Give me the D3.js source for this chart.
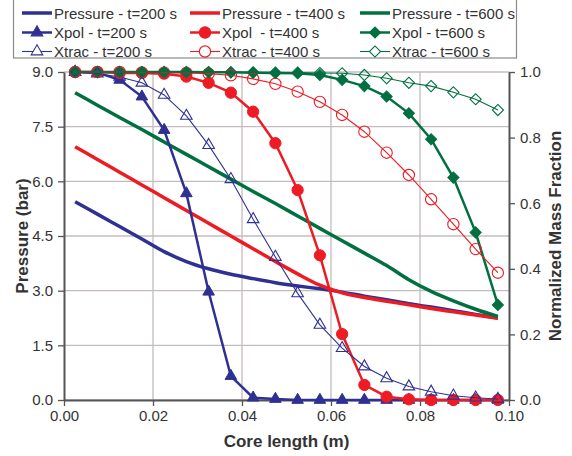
<!DOCTYPE html>
<html>
<head>
<meta charset="utf-8">
<script src="https://cdn.jsdelivr.net/npm/d3@7"></script>
<style>
body { margin: 0; background: #fff; }
text { font-family: "Liberation Sans", Arial, sans-serif; fill: #333; }
</style>
</head>
<body>
<div class="visualization"></div>
<script>
//data
const coreX = [0.0025, 0.0075, 0.0125, 0.0175, 0.0225, 0.0275, 0.0325, 0.0375, 0.0425, 0.0475,
               0.0525, 0.0575, 0.0625, 0.0675, 0.0725, 0.0775, 0.0825, 0.0875, 0.0925, 0.0975];

const pressure200 = [5.44, 5.10, 4.76, 4.42, 4.07, 3.80, 3.60, 3.45, 3.33, 3.22,
                     3.13, 3.05, 2.96, 2.85, 2.75, 2.64, 2.55, 2.45, 2.35, 2.25];
const pressure400 = [6.95, 6.60, 6.25, 5.90, 5.55, 5.20, 4.85, 4.50, 4.15, 3.80,
                     3.46, 3.15, 2.94, 2.81, 2.71, 2.61, 2.51, 2.42, 2.33, 2.24];
const pressure600 = [8.43, 8.09, 7.75, 7.42, 7.08, 6.74, 6.40, 6.06, 5.72, 5.39,
                     5.05, 4.71, 4.37, 4.03, 3.69, 3.30, 2.98, 2.72, 2.49, 2.29];

const xpol200 = [1.0, 0.998, 0.976, 0.925, 0.823, 0.63, 0.33, 0.073, 0.007, 0.003,
                 0, 0, 0, 0, 0, 0, 0, 0, 0, 0];
const xpol400 = [1.0, 1.0, 0.997, 0.997, 0.995, 0.986, 0.967, 0.937, 0.879, 0.783,
                 0.640, 0.441, 0.201, 0.046, 0.010, 0.002, 0, 0, 0, 0];
const xpol600 = [1.0, 1.0, 1.0, 1.0, 1.0, 1.0, 0.999, 0.999, 0.998, 0.997,
                 0.996, 0.991, 0.976, 0.957, 0.925, 0.874, 0.795, 0.678, 0.511, 0.290];

const xtrac200 = [1.0, 0.995, 0.985, 0.967, 0.930, 0.866, 0.777, 0.673, 0.551, 0.436,
                  0.325, 0.229, 0.158, 0.102, 0.066, 0.041, 0.025, 0.013, 0.007, 0.003];
const xtrac400 = [1.0, 1.0, 1.0, 0.999, 0.998, 0.997, 0.995, 0.990, 0.979, 0.964,
                  0.940, 0.909, 0.869, 0.818, 0.754, 0.686, 0.612, 0.536, 0.460, 0.388];
const xtrac600 = [1.0, 1.0, 1.0, 1.0, 1.0, 1.0, 1.0, 0.999, 0.999, 0.998,
                  0.998, 0.997, 0.996, 0.991, 0.981, 0.967, 0.957, 0.938, 0.917, 0.884];

const xTicks = [0, 0.02, 0.04, 0.06, 0.08, 0.10];
const pressureTicks = [0, 1.5, 3.0, 4.5, 6.0, 7.5, 9.0];
const fractionTicks = [0, 0.2, 0.4, 0.6, 0.8, 1.0];

const legendLabels = [
  ["Pressure - t=200 s", "Pressure - t=400 s", "Pressure - t=600 s"],
  ["Xpol - t=200 s", "Xpol  - t=400 s", "Xpol - t=600 s"],
  ["Xtrac - t=200 s", "Xtrac - t=400 s", "Xtrac - t=600 s"]
];

//constants
const width = 572;
const height = 456;
const margin = {top: 72, right: 63, bottom: 56, left: 64};
const blue = "#2e3192", red = "#ed1c24", green = "#007040";
const colors = [blue, red, green];

const svg = d3.select(".visualization")
    .append("svg")
    .attr("width", width)
    .attr("height", height);

const x = d3.scaleLinear().domain([0, 0.10]).range([margin.left, width - margin.right]);
const yP = d3.scaleLinear().domain([0, 9]).range([height - margin.bottom, margin.top]);
const yF = d3.scaleLinear().domain([0, 1]).range([height - margin.bottom, margin.top]);

//gridlines
svg.append("g")
    .selectAll("line")
    .data(pressureTicks)
    .enter()
    .append("line")
    .attr("x1", x(0)).attr("x2", x(0.10))
    .attr("y1", d => yP(d)).attr("y2", d => yP(d))
    .attr("stroke", "#c4bcbc").attr("stroke-width", 1.3);
svg.append("g")
    .selectAll("line")
    .data(xTicks.slice(1, -1))
    .enter()
    .append("line")
    .attr("x1", d => x(d)).attr("x2", d => x(d))
    .attr("y1", yP(0)).attr("y2", yP(9))
    .attr("stroke", "#c4bcbc").attr("stroke-width", 1.3);

//axes
const axisStyle = g => {
  g.select(".domain").attr("stroke", "#555").attr("stroke-width", 2);
  g.selectAll(".tick line").attr("stroke", "#555").attr("stroke-width", 1.3);
  g.selectAll(".tick text").style("font-size", "15px").attr("fill", "#333");
};
svg.append("g")
    .attr("transform", `translate(0,${yP(0)})`)
    .call(d3.axisBottom(x).tickValues(xTicks).tickFormat(d3.format(".2f")).tickSize(6).tickSizeOuter(0).tickPadding(4))
    .call(axisStyle);
svg.append("g")
    .attr("transform", `translate(${x(0)},0)`)
    .call(d3.axisLeft(yP).tickValues(pressureTicks).tickFormat(d3.format(".1f")).tickSize(6).tickSizeOuter(0).tickPadding(5))
    .call(axisStyle);
svg.append("g")
    .attr("transform", `translate(${x(0.10)},0)`)
    .call(d3.axisRight(yF).tickValues(fractionTicks).tickFormat(d3.format(".1f")).tickSize(6).tickSizeOuter(0).tickPadding(5))
    .call(axisStyle);

//axis titles
svg.append("text")
    .attr("x", (x(0) + x(0.10)) / 2).attr("y", 447)
    .attr("text-anchor", "middle")
    .style("font-size", "17px").style("font-weight", "bold")
    .text("Core length (m)");
svg.append("text")
    .attr("transform", `translate(28,${(yP(0) + yP(9)) / 2}) rotate(-90)`)
    .attr("text-anchor", "middle")
    .style("font-size", "17px").style("font-weight", "bold")
    .text("Pressure (bar)");
svg.append("text")
    .attr("transform", `translate(561,${(yP(0) + yP(9)) / 2}) rotate(-90)`)
    .attr("text-anchor", "middle")
    .style("font-size", "17px").style("font-weight", "bold")
    .text("Normalized Mass Fraction");

//series
const pressureLine = d3.line().x((d, i) => x(coreX[i])).y(d => yP(d)).curve(d3.curveMonotoneX);
const fractionLine = d3.line().x((d, i) => x(coreX[i])).y(d => yF(d));

[pressure200, pressure400, pressure600].forEach((s, k) => {
  svg.append("path")
      .attr("d", pressureLine(s))
      .attr("fill", "none")
      .attr("stroke", colors[k])
      .attr("stroke-width", 3.5);
});

const shapes = [d3.symbolTriangle, d3.symbolCircle, d3.symbolSquare];
const sizes = [58, 100, 62];
const rotate = [0, 0, 45];

function markerPath(k) {
  return d3.symbol().type(shapes[k]).size(sizes[k])();
}

function drawSeries(series, k, filled) {
  const g = svg.append("g");
  g.append("path")
      .attr("d", fractionLine(series))
      .attr("fill", "none")
      .attr("stroke", colors[k])
      .attr("stroke-width", filled ? 2.5 : 1.1);
  g.selectAll("path.marker")
      .data(series)
      .enter()
      .append("path")
      .attr("class", "marker")
      .attr("d", markerPath(k))
      .attr("transform", (d, i) => `translate(${x(coreX[i])},${yF(d)}) rotate(${rotate[k]})`)
      .attr("fill", filled ? colors[k] : "none")
      .attr("stroke", colors[k])
      .attr("stroke-width", filled ? 1 : 1.1);
}

[xpol200, xpol400, xpol600].forEach((s, k) => drawSeries(s, k, true));
[xtrac200, xtrac400, xtrac600].forEach((s, k) => drawSeries(s, k, false));

//legend
const legend = svg.append("g");
legend.append("rect")
    .attr("x", 13.5).attr("y", -2)
    .attr("width", 503).attr("height", 60)
    .attr("fill", "#fff")
    .attr("stroke", "#8a8a8a")
    .attr("stroke-width", 1.2);

const colStart = [22, 190, 360];
const rowY = [13, 32.5, 51.5];
const lineLen = 30;

legendLabels.forEach((row, r) => {
  row.forEach((label, k) => {
    const item = legend.append("g")
        .attr("transform", `translate(${colStart[k]},${rowY[r]})`);
    item.append("line")
        .attr("x1", 0).attr("x2", lineLen)
        .attr("stroke", colors[k])
        .attr("stroke-width", r === 0 ? 3.5 : (r === 1 ? 2.5 : 1.1));
    if (r > 0) {
      item.append("path")
          .attr("d", markerPath(k))
          .attr("transform", `translate(${lineLen / 2},0) rotate(${rotate[k]})`)
          .attr("fill", r === 1 ? colors[k] : "#fff")
          .attr("stroke", colors[k])
          .attr("stroke-width", 1.1);
    }
    item.append("text")
        .attr("x", lineLen + 2).attr("y", 5.5)
        .style("font-size", "15px")
        .style("white-space", "pre")
        .attr("fill", "#333")
        .text(label);
  });
});
</script>
</body>
</html>
